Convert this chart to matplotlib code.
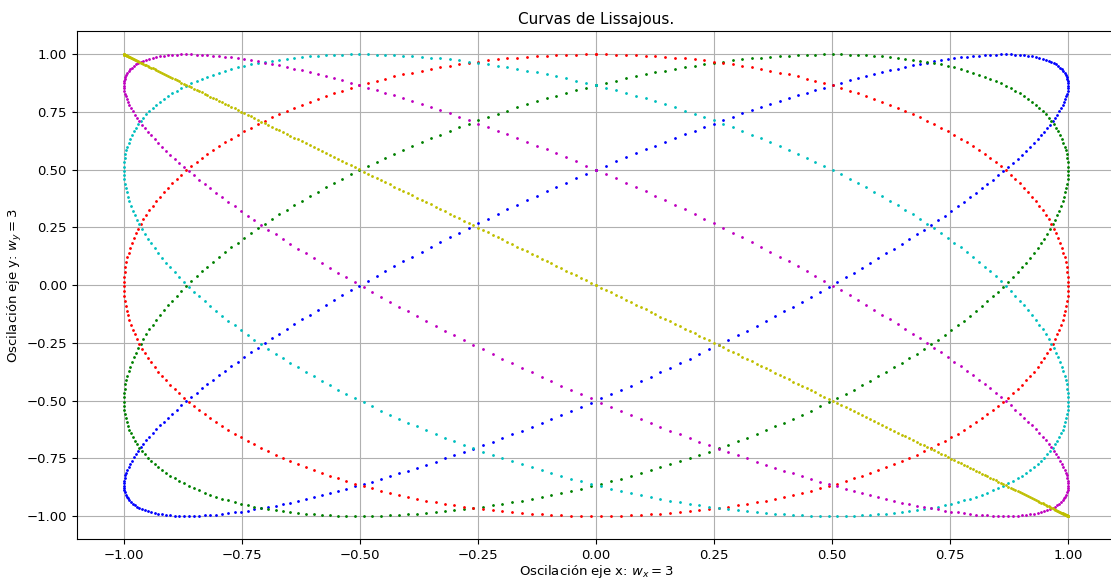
import numpy as np
import matplotlib
matplotlib.use('Agg')
from matplotlib import pyplot as plt

# frecuencias y desfases de cada curva
wx = 3
wy = 3
phases = [np.pi / 6, np.pi / 3, np.pi / 2, 2 * np.pi / 3, 5 * np.pi / 6, np.pi]
colors = ['b', 'g', 'r', 'c', 'm', 'y']
n_points = 300

t = np.linspace(0, 2 * np.pi / wx, n_points)

fig, ax = plt.subplots(figsize=(11.11, 5.79), dpi=100)
for phase, color in zip(phases, colors):
    x = np.sin(wx * t)
    y = np.sin(wy * t + phase)
    ax.plot(x, y, color + '.', markersize=2)

ax.set_title('Curvas de Lissajous.', fontsize=11, pad=5)
ax.set_xlabel('Oscilación eje x: $w_x = %d$' % wx, fontsize=9.5, labelpad=1)
ax.set_ylabel('Oscilación eje y: $w_y = %d$' % wy, fontsize=9.5, labelpad=2)
ax.tick_params(labelsize=9.5)
ax.grid(True)
plt.subplots_adjust(left=0.069, right=1.004, top=0.946, bottom=0.069)
plt.savefig('out.png')
